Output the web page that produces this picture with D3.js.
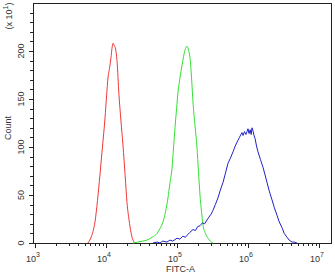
<!DOCTYPE html>
<html>
<head>
<meta charset="utf-8">
<script src="https://cdn.jsdelivr.net/npm/d3@7"></script>
<style>
body { margin: 0; background: #fff; }
text { font-family: "Liberation Sans", Arial, sans-serif; fill: #333; }
</style>
</head>
<body>
<div id="viz"></div>
<script>
var width = 335,
  height = 275;

// histograms: x = log10(FITC-A), y = count (x10)
var redX = [3.746, 3.80, 3.845, 3.88, 3.915, 3.95, 3.986, 4.01, 4.028, 4.05, 4.070, 4.085, 4.099, 4.115, 4.135, 4.155, 4.183, 4.21, 4.239, 4.27, 4.296, 4.325, 4.352, 4.38, 4.408];
var redY = [0, 8, 22, 44, 71, 100, 130, 155, 172, 182, 193, 203, 208, 206, 202, 190, 154, 128, 102, 70, 42, 24, 11, 3, 0];

var greenX = [4.380, 4.45, 4.52, 4.577, 4.65, 4.718, 4.76, 4.803, 4.84, 4.873, 4.90, 4.930, 4.952, 4.972, 4.994, 5.014, 5.042, 5.070, 5.092, 5.113, 5.128, 5.141, 5.162, 5.183, 5.205, 5.225, 5.254, 5.282, 5.303, 5.324, 5.345, 5.366, 5.40, 5.437, 5.47, 5.507];
var greenY = [0, 1, 2, 3, 6, 10, 15, 22, 33, 47, 62, 78, 100, 120, 140, 157, 172, 185, 194, 201, 204, 205, 201, 193, 172, 147, 122, 99, 74, 50, 33, 19, 10, 5, 2, 0];

var blueX = [4.662, 4.72, 4.76, 4.80, 4.859, 4.90, 4.94, 5.000, 5.04, 5.08, 5.12, 5.141, 5.18, 5.225, 5.26, 5.29, 5.324, 5.36, 5.39, 5.423, 5.45, 5.48, 5.507, 5.54, 5.577, 5.61, 5.648, 5.68, 5.718, 5.75, 5.789, 5.82, 5.859, 5.88, 5.90, 5.915, 5.93, 5.95, 5.97, 5.986, 6.00, 6.015, 6.03, 6.045, 6.056, 6.07, 6.085, 6.099, 6.12, 6.141, 6.175, 6.211, 6.24, 6.268, 6.30, 6.338, 6.37, 6.408, 6.44, 6.479, 6.51, 6.549, 6.58, 6.620, 6.65, 6.690];
var blueY = [0, 1, 0, 2, 1, 3, 2, 5, 4, 7, 6, 8, 11, 14, 13, 17, 18, 21, 20, 24, 27, 30, 34, 40, 47, 55, 63, 72, 83, 88, 95, 101, 107, 110, 113, 115, 112, 116, 113, 116, 119, 114, 118, 113, 120, 117, 112, 109, 101, 95, 87, 79, 71, 63, 54, 45, 37, 29, 22, 16, 10, 6, 3, 1, 1, 0];

var xMajor = [3, 4, 5, 6, 7];
var yMajor = [0, 50, 100, 150, 200];

var svg = d3.select('#viz').append('svg')
  .attr('width', width)
  .attr('height', height);

var x = d3.scaleLog().domain([Math.pow(10, 2.972), Math.pow(10, 7.169)]).range([33, 331]);
var y = d3.scaleLinear().domain([0, 250]).range([243, 3]);

function series(xs, ys) {
  return xs.map(function (d, i) { return { x: Math.pow(10, d), y: ys[i] }; });
}

var line = d3.line()
  .x(function (d) { return x(d.x); })
  .y(function (d) { return y(d.y); });

var smooth = d3.line()
  .curve(d3.curveMonotoneX)
  .x(function (d) { return x(d.x); })
  .y(function (d) { return y(d.y); });

// frame
svg.append('rect')
  .attr('x', 33.5)
  .attr('y', 3.5)
  .attr('width', 298)
  .attr('height', 240)
  .attr('fill', 'none')
  .attr('stroke', '#222')
  .attr('stroke-width', 1);

// x ticks (log decades, minor 2..9)
var xMinor = [];
for (var e = 3; e < 7; e++) {
  for (var m = 2; m < 10; m++) xMinor.push(m * Math.pow(10, e));
}
svg.selectAll('.xminor').data(xMinor).enter().append('line')
  .attr('x1', function (d) { return Math.round(x(d)) + 0.5; })
  .attr('x2', function (d) { return Math.round(x(d)) + 0.5; })
  .attr('y1', 243)
  .attr('y2', 246)
  .attr('stroke', '#222');

svg.selectAll('.xmajor').data(xMajor).enter().append('line')
  .attr('x1', function (d) { return Math.round(x(Math.pow(10, d))) + 0.5; })
  .attr('x2', function (d) { return Math.round(x(Math.pow(10, d))) + 0.5; })
  .attr('y1', 243)
  .attr('y2', 248)
  .attr('stroke', '#222');

var xl = svg.selectAll('.xlab').data(xMajor).enter().append('text')
  .attr('x', function (d) { return x(Math.pow(10, d)) - 2; })
  .attr('y', 262)
  .attr('text-anchor', 'middle')
  .attr('font-size', 9);
xl.append('tspan').text('10');
xl.append('tspan').attr('dy', -5).attr('font-size', 7).text(function (d) { return d; });

// y ticks
var yMinor = d3.range(0, 250, 10);
svg.selectAll('.yminor').data(yMinor).enter().append('line')
  .attr('x1', 30)
  .attr('x2', 33)
  .attr('y1', function (d) { return Math.round(y(d)) + 0.5; })
  .attr('y2', function (d) { return Math.round(y(d)) + 0.5; })
  .attr('stroke', '#222');

svg.selectAll('.ymajor').data(yMajor).enter().append('line')
  .attr('x1', 29)
  .attr('x2', 33)
  .attr('y1', function (d) { return Math.round(y(d)) + 0.5; })
  .attr('y2', function (d) { return Math.round(y(d)) + 0.5; })
  .attr('stroke', '#222');

svg.selectAll('.ylab').data(yMajor).enter().append('text')
  .attr('transform', function (d) { return 'translate(24,' + y(d) + ') rotate(-90)'; })
  .attr('text-anchor', 'middle')
  .attr('font-size', 9)
  .text(function (d) { return d; });

// axis titles
svg.append('text')
  .attr('x', x(Math.pow(10, 5.05)))
  .attr('y', 272)
  .attr('text-anchor', 'middle')
  .attr('font-size', 9)
  .text('FITC-A');

svg.append('text')
  .attr('transform', 'translate(11,128) rotate(-90)')
  .attr('text-anchor', 'middle')
  .attr('font-size', 9)
  .text('Count');

var sc = svg.append('text')
  .attr('transform', 'translate(12,16) rotate(-90)')
  .attr('text-anchor', 'middle')
  .attr('font-size', 9);
sc.append('tspan').text('(x 10');
sc.append('tspan').attr('dy', -4).attr('font-size', 7).text('1');
sc.append('tspan').attr('dy', 4).text(')');

// histograms
svg.append('path')
  .attr('d', smooth(series(redX, redY)))
  .attr('fill', 'none')
  .attr('stroke', '#f03838')
  .attr('stroke-width', 1);

svg.append('path')
  .attr('d', smooth(series(greenX, greenY)))
  .attr('fill', 'none')
  .attr('stroke', '#33e033')
  .attr('stroke-width', 1);

svg.append('path')
  .attr('d', line(series(blueX, blueY)))
  .attr('fill', 'none')
  .attr('stroke', '#2020c8')
  .attr('stroke-width', 1);
</script>
</body>
</html>
